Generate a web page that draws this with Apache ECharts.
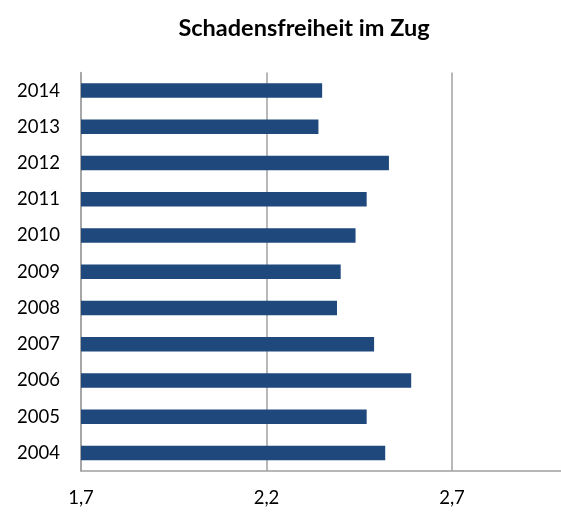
<!DOCTYPE html>
<html>
<head>
<meta charset="utf-8">
<script src="https://cdn.jsdelivr.net/npm/echarts@6/dist/echarts.min.js"></script>
<style>
  html, body { margin: 0; padding: 0; background: #fff; }
  #main { width: 561px; height: 513px; }
</style>
</head>
<body>
<div id="main"></div>
<script>
// Jahre (von unten nach oben)
var years = ['2004', '2005', '2006', '2007', '2008', '2009', '2010', '2011', '2012', '2013', '2014'];
var values = [2.52, 2.47, 2.59, 2.49, 2.39, 2.40, 2.44, 2.47, 2.53, 2.34, 2.35];
var tickMin = 1.7;
var tickStep = 0.5;

var myChart = echarts.init(document.getElementById('main'));
var option = {
  animation: false,
  title: {
    text: 'Schadensfreiheit im Zug',
    left: 299,
    top: 11,
    textAlign: 'center',
    textStyle: {
      fontFamily: 'Lato',
      fontSize: 23.5,
      fontWeight: 'bold',
      color: '#000'
    }
  },
  grid: {
    left: 81,
    right: -76.5,
    top: 72.5,
    bottom: 42,
    outerBoundsMode: 'none'
  },
  xAxis: {
    type: 'value',
    min: tickMin,
    max: 3.2,
    interval: tickStep,
    axisLine: { show: true, lineStyle: { color: '#a0a0a0', width: 1.5 } },
    axisTick: { show: false },
    splitLine: { show: true, lineStyle: { color: '#a0a0a0', width: 1.5 } },
    axisLabel: {
      margin: 18,
      showMaxLabel: false,
      fontFamily: 'Lato',
      fontSize: 18.5,
      color: '#000',
      formatter: function(v) { return v.toFixed(1).replace('.', ','); }
    }
  },
  yAxis: {
    type: 'category',
    data: years,
    axisLine: { show: true, lineStyle: { color: '#a0a0a0', width: 1.5 } },
    axisTick: { show: false },
    axisLabel: {
      margin: 21,
      fontFamily: 'Lato',
      fontSize: 18.5,
      color: '#000'
    }
  },
  series: [{
    type: 'bar',
    data: values,
    barWidth: '40%',
    itemStyle: { color: '#1F497D' }
  }]
};
myChart.setOption(option);
</script>
</body>
</html>
